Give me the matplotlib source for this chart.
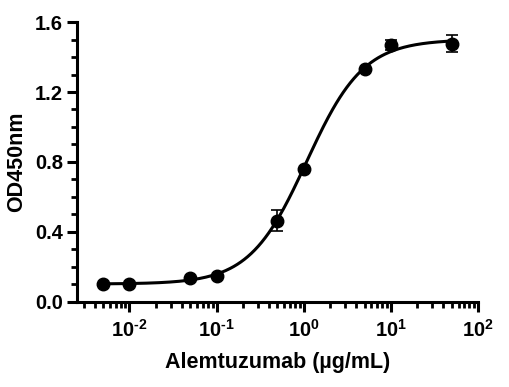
import numpy as np
import matplotlib
matplotlib.use("Agg")
import matplotlib.pyplot as plt
from matplotlib.ticker import LogLocator, MultipleLocator, NullFormatter, FixedLocator, FixedFormatter

conc = [0.005, 0.01, 0.05, 0.1, 0.5, 1, 5, 10, 50]
od = [0.100, 0.104, 0.136, 0.150, 0.465, 0.757, 1.330, 1.468, 1.476]
err = [0.0, 0.0, 0.0, 0.0, 0.06, 0.0, 0.0, 0.03, 0.048]
xticks = [0.01, 0.1, 1, 10, 100]
xticklabels = ['$\\mathbf{10^{\\text{-}2}}$', '$\\mathbf{10^{\\text{-}1}}$', '$\\mathbf{10^{0}}$',
               '$\\mathbf{10^{1}}$', '$\\mathbf{10^{2}}$']
yticks = [0.0, 0.4, 0.8, 1.2, 1.6]
yticklabels = ['0.0', '0.4', '0.8', '1.2', '1.6']

# 4PL fit parameters
bottom, top, ec50, hill = 0.102, 1.50, 1.08, 1.33

plt.rcParams['font.family'] = ['Liberation Sans', 'DejaVu Sans']
plt.rcParams['font.weight'] = 'bold'
plt.rcParams['mathtext.fontset'] = 'custom'
plt.rcParams['mathtext.rm'] = 'Liberation Sans:bold'
plt.rcParams['mathtext.bf'] = 'Liberation Sans:bold'
plt.rcParams['mathtext.it'] = 'Liberation Sans:bold'

fig = plt.figure(figsize=(5.10, 3.87), dpi=100)
ax = fig.add_axes([0.151, 0.220, 0.786, 0.723])

xf = np.logspace(np.log10(conc[0]), np.log10(conc[-1]), 300)
yf = bottom + (top - bottom) / (1 + (ec50 / xf) ** hill)
ax.plot(xf, yf, color='black', lw=2.2, zorder=2)
ax.errorbar(conc, od, yerr=err, fmt='o', color='black', ms=9,
            ecolor='black', elinewidth=1.2, capsize=4, capthick=1.2, zorder=3)

ax.set_xscale('log')
ax.set_xlim(0.0025, 100)
ax.set_ylim(0, 1.6)
ax.yaxis.set_major_locator(FixedLocator(yticks))
ax.yaxis.set_major_formatter(FixedFormatter(yticklabels))
ax.yaxis.set_minor_locator(MultipleLocator(0.1))
ax.xaxis.set_major_locator(FixedLocator(xticks))
ax.xaxis.set_major_formatter(FixedFormatter(xticklabels))
ax.xaxis.set_minor_locator(LogLocator(base=10, subs=np.arange(2, 10), numticks=20))
ax.xaxis.set_minor_formatter(NullFormatter())

for s in ['top', 'right']:
    ax.spines[s].set_visible(False)
for s in ['left', 'bottom']:
    ax.spines[s].set_linewidth(2.2)

ax.tick_params(axis='both', which='major', direction='out', length=7, width=2.2,
               labelsize=14.5, pad=5)
ax.tick_params(axis='y', which='major', pad=3)
ax.tick_params(axis='both', which='minor', direction='out', length=4, width=2.0)

ax.set_xlabel('Alemtuzumab (µg/mL)', fontsize=15.5, fontweight='bold', labelpad=8)
ax.set_ylabel('OD450nm', fontsize=15.5, fontweight='bold', labelpad=6)

fig.savefig('out.png', dpi=100)
